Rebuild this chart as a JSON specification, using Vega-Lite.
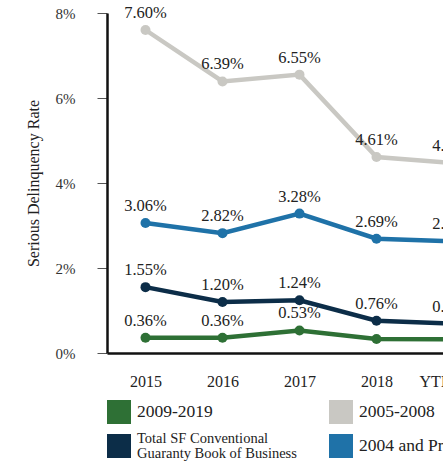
{
  "$schema": "https://vega.github.io/schema/vega-lite/v6.json",
  "width": 385,
  "height": 340,
  "padding": {"left": 25, "top": 5, "right": 0, "bottom": 0},
  "background": "white",
  "config": {
    "view": {"stroke": null},
    "font": "Liberation Serif",
    "text": {"font": "Liberation Serif"}
  },
  "data": {
    "values": [
      {"year": "2015", "series": "2005-2008", "value": 7.60, "label": "7.60%"},
      {"year": "2016", "series": "2005-2008", "value": 6.39, "label": "6.39%"},
      {"year": "2017", "series": "2005-2008", "value": 6.55, "label": "6.55%"},
      {"year": "2018", "series": "2005-2008", "value": 4.61, "label": "4.61%"},
      {"year": "YTD 2019", "series": "2005-2008", "value": 4.47, "label": "4.47%"},
      {"year": "2015", "series": "2004 and Prior", "value": 3.06, "label": "3.06%"},
      {"year": "2016", "series": "2004 and Prior", "value": 2.82, "label": "2.82%"},
      {"year": "2017", "series": "2004 and Prior", "value": 3.28, "label": "3.28%"},
      {"year": "2018", "series": "2004 and Prior", "value": 2.69, "label": "2.69%"},
      {"year": "YTD 2019", "series": "2004 and Prior", "value": 2.63, "label": "2.63%"},
      {"year": "2015", "series": "Total SF Conventional Guaranty Book of Business", "value": 1.55, "label": "1.55%"},
      {"year": "2016", "series": "Total SF Conventional Guaranty Book of Business", "value": 1.20, "label": "1.20%"},
      {"year": "2017", "series": "Total SF Conventional Guaranty Book of Business", "value": 1.24, "label": "1.24%"},
      {"year": "2018", "series": "Total SF Conventional Guaranty Book of Business", "value": 0.76, "label": "0.76%"},
      {"year": "YTD 2019", "series": "Total SF Conventional Guaranty Book of Business", "value": 0.69, "label": "0.69%"},
      {"year": "2015", "series": "2009-2019", "value": 0.36, "label": "0.36%"},
      {"year": "2016", "series": "2009-2019", "value": 0.36, "label": "0.36%"},
      {"year": "2017", "series": "2009-2019", "value": 0.53, "label": "0.53%"},
      {"year": "2018", "series": "2009-2019", "value": 0.33, "label": ""},
      {"year": "YTD 2019", "series": "2009-2019", "value": 0.32, "label": ""}
    ]
  },
  "encoding": {
    "x": {
      "field": "year", "type": "ordinal", "scale": {"type": "point", "padding": 0.5},
      "axis": {
        "title": null, "labelAngle": 0, "ticks": false, "labelPadding": 20,
        "domainColor": "#111", "domainWidth": 2.5, "labelFontSize": 16,
        "labelColor": "#222", "labelFont": "Liberation Serif"
      }
    },
    "y": {
      "field": "value", "type": "quantitative",
      "scale": {"domain": [0, 8]},
      "axis": {
        "title": "Serious Delinquency Rate", "values": [0, 2, 4, 6, 8],
        "labelExpr": "datum.value + '%'", "grid": false,
        "tickSize": 10, "tickColor": "#555", "labelPadding": 22,
        "domainColor": "#111", "domainWidth": 2.5,
        "labelFontSize": 15, "labelColor": "#333", "labelFont": "Liberation Serif",
        "titleFontSize": 16, "titleFontWeight": "normal", "titleColor": "#222",
        "titleFont": "Liberation Serif", "titlePadding": 14
      }
    },
    "color": {
      "field": "series", "type": "nominal",
      "scale": {
        "domain": ["2009-2019", "2005-2008", "Total SF Conventional Guaranty Book of Business", "2004 and Prior"],
        "range": ["#2e7035", "#c9c8c3", "#0c2d48", "#1f72a8"]
      },
      "legend": {
        "title": null, "orient": "none", "legendX": 0, "legendY": 387,
        "direction": "horizontal",
        "columns": 2, "symbolType": "square", "symbolSize": 576,
        "symbolStrokeWidth": 0, "symbolOpacity": 1,
        "labelFontSize": 17.5, "labelColor": "#222", "labelFont": "Liberation Serif",
        "labelLimit": 300, "columnPadding": 32, "rowPadding": 7, "labelOffset": 6,
        "labelExpr": "datum.label == 'Total SF Conventional Guaranty Book of Business' ? ['Total SF Conventional', 'Guaranty Book of Business'] : datum.label",
        "encode": {
          "labels": {"update": {
            "fontSize": {"signal": "datum.label == 'Total SF Conventional Guaranty Book of Business' ? 14.5 : 17.5"},
            "lineHeight": {"value": 15},
            "dy": {"signal": "datum.label == 'Total SF Conventional Guaranty Book of Business' ? -7 : 0"}
          }},
          "symbols": {"update": {"fill": {"field": "value", "scale": "color"}, "stroke": {"value": "transparent"}}}
        }
      }
    }
  },
  "layer": [
    {"mark": {"type": "line", "strokeWidth": 4.5}, "encoding": {"detail": {"field": "series"}}},
    {"mark": {"type": "point", "filled": true, "size": 100, "opacity": 1}},
    {
      "mark": {"type": "text", "dy": -17, "fontSize": 16.5, "color": "#222"},
      "encoding": {"text": {"field": "label"}, "color": {"value": "#222"}}
    }
  ]
}
